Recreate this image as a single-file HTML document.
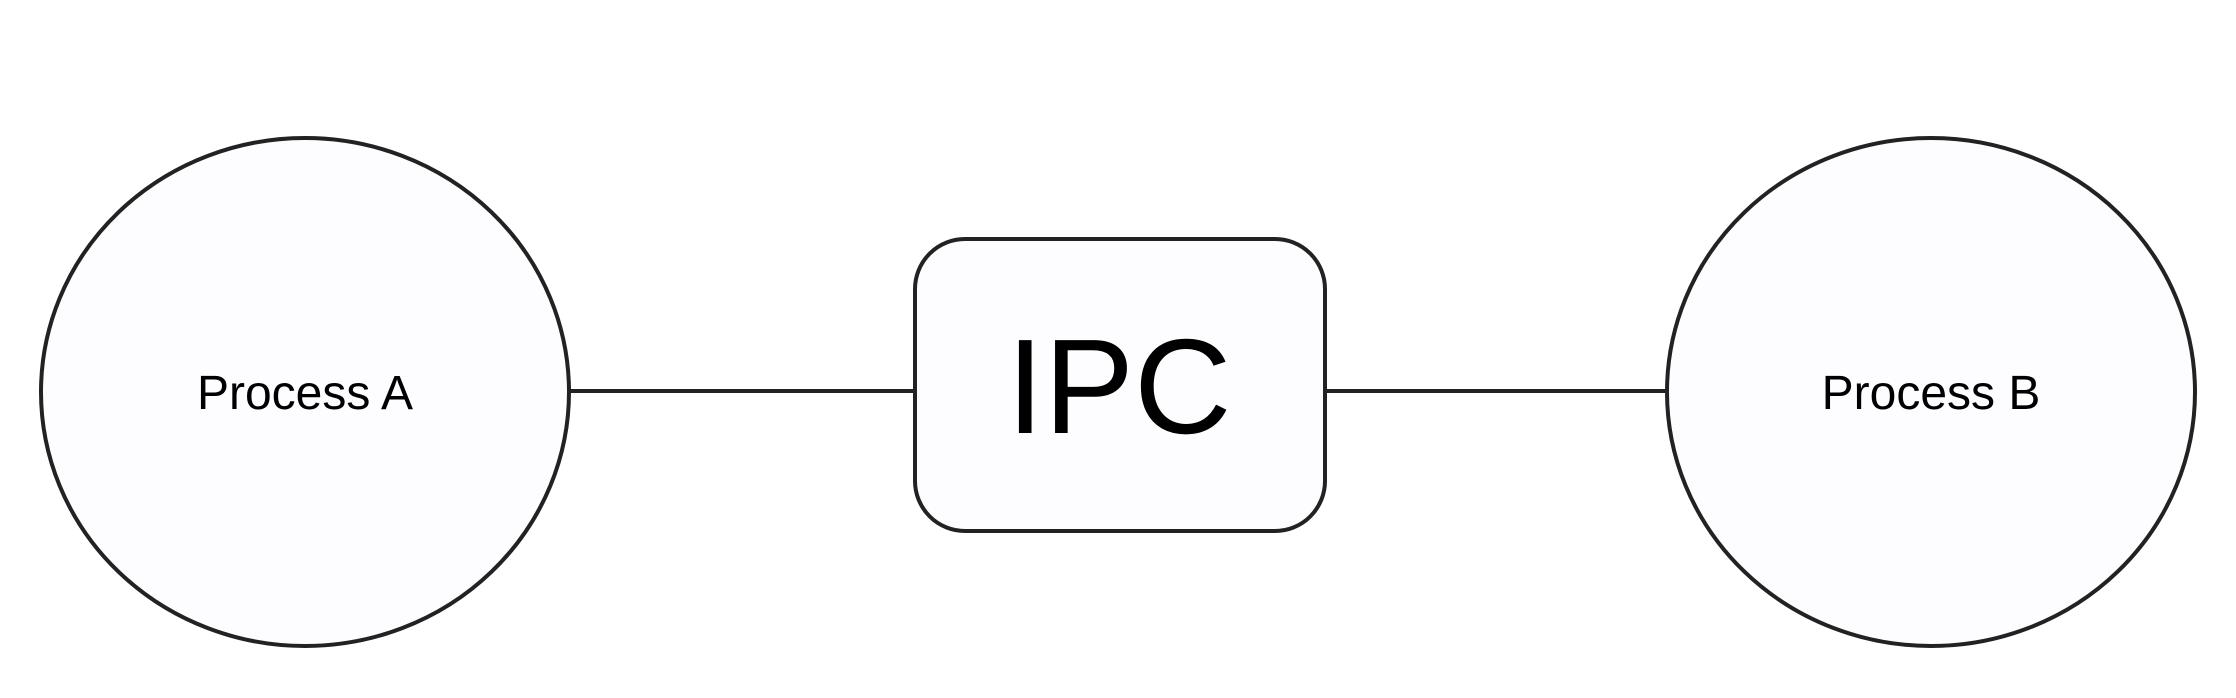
<!DOCTYPE html>
<html><head><meta charset="utf-8"><style>html,body{margin:0;padding:0;background:#fff;}svg{display:block}</style></head>
<body>
<svg width="2236" height="698" viewBox="0 0 2236 698" xmlns="http://www.w3.org/2000/svg">
<rect width="2236" height="698" fill="#fff"/>
<line x1="569" y1="391" x2="915" y2="391" stroke="#222" stroke-width="4"/>
<line x1="1325" y1="391" x2="1667" y2="391" stroke="#222" stroke-width="4"/>
<ellipse cx="305" cy="392" rx="264" ry="254" fill="#fdfcff" stroke="#222" stroke-width="4"/>
<ellipse cx="1931" cy="392" rx="264" ry="254" fill="#fdfcff" stroke="#222" stroke-width="4"/>
<rect x="915" y="239" width="410" height="292" rx="50" ry="50" fill="#fdfcff" stroke="#222" stroke-width="4"/>
<text x="305" y="409" font-family="Liberation Sans, sans-serif" font-size="48" text-anchor="middle" fill="#000">Process A</text>
<text x="1931" y="409" font-family="Liberation Sans, sans-serif" font-size="48" text-anchor="middle" fill="#000">Process B</text>
<text x="1119" y="433" font-family="Liberation Sans, sans-serif" font-size="135" text-anchor="middle" fill="#000">IPC</text>
</svg>
</body></html>
